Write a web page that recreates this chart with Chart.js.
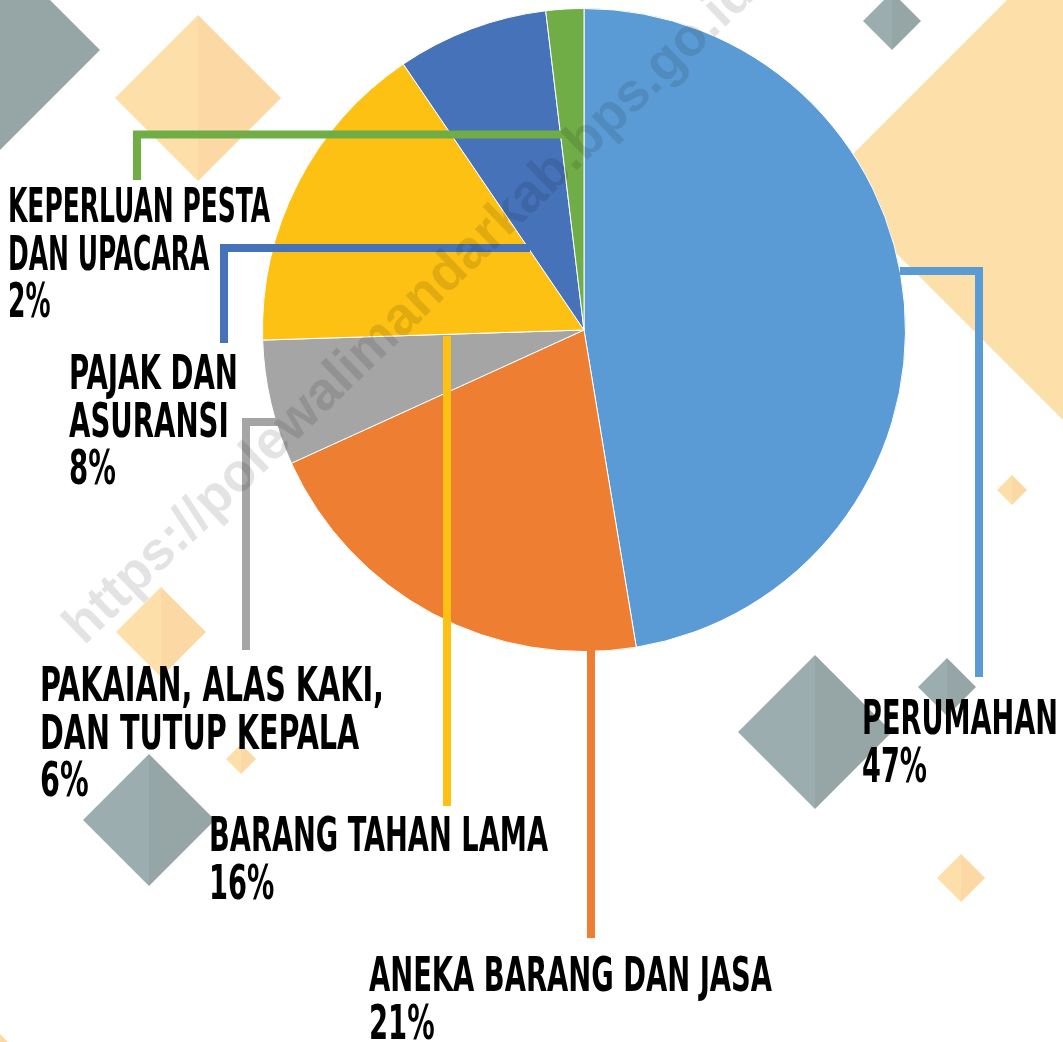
<!DOCTYPE html>
<html>
<head>
<meta charset="utf-8">
<script src="https://cdn.jsdelivr.net/npm/chart.js@4.4.1/dist/chart.umd.min.js"></script>
<style>
    html, body { margin: 0; padding: 0; background: #ffffff; }
    #cadre { width: 1063px; height: 1042px; position: relative; }
</style>
</head>
<body>
<div id="cadre"><canvas id="grafikPengeluaran"></canvas></div>
<script>
// ============================================================================
// Data
// ============================================================================
const kategori = [
    'PERUMAHAN',
    'ANEKA BARANG DAN JASA',
    'PAKAIAN, ALAS KAKI, DAN TUTUP KEPALA',
    'BARANG TAHAN LAMA',
    'PAJAK DAN ASURANSI',
    'KEPERLUAN PESTA DAN UPACARA'
];
const nilaiPersen = [47.4, 20.8, 6.3, 16.0, 7.6, 1.9];
const labelPersen = ['47%', '21%', '6%', '16%', '8%', '2%'];
const warnaIrisan = ['#5B9BD5', '#EE7E31', '#A5A5A5', '#FDC113', '#4672B9', '#70AD47'];

// Baris teks tiap label (pemecahan baris seperti pada gambar)
const barisLabel = [
    ['PERUMAHAN'],
    ['ANEKA BARANG DAN JASA'],
    ['PAKAIAN, ALAS KAKI,', 'DAN TUTUP KEPALA'],
    ['BARANG TAHAN LAMA'],
    ['PAJAK DAN', 'ASURANSI'],
    ['KEPERLUAN PESTA', 'DAN UPACARA']
];

// ============================================================================
// Tata letak (posisi label, garis penunjuk, hiasan)
// ============================================================================
const TINGGI_BARIS = 47.5;
const FONT_LABEL = 'bold 48px "Liberation Sans Narrow", "DejaVu Sans Condensed", sans-serif';

// x, baseline baris pertama, lebar baris pertama, titik garis penunjuk
const tataLabel = [
    { x: 862, y: 734, w: 196, garis: [[979, 677], [979, 271], [900, 271]] },
    { x: 369, y: 991, w: 403, garis: [[591, 938], [591, 646]] },
    { x: 40,  y: 701, w: 344, garis: [[246, 650], [246, 422], [280, 422]] },
    { x: 209, y: 851, w: 339, garis: [[447, 806], [447, 336]] },
    { x: 69,  y: 389, w: 169, garis: [[224, 343], [224, 248], [530, 248]] },
    { x: 8,   y: 222, w: 262, garis: [[137, 180], [137, 134.5], [576, 134.5]] }
];

// hiasan belah ketupat: pusat x, pusat y, setengah diagonal, jenis
const hiasan = [
    [0, 50, 100, 'abu'],
    [198, 98, 83, 'krem'],
    [892, 21, 29, 'abu'],
    [1065, 182, 240, 'krem'],
    [1012, 490, 15, 'krem'],
    [815, 732, 77, 'abu'],
    [947, 687, 29, 'abu'],
    [961, 878, 24, 'krem'],
    [161, 632, 45, 'krem'],
    [241, 759, 15, 'krem'],
    [149, 820, 66, 'abu'],
    [0, 1052, 18, 'krem']
];
const warnaHiasan = {
    abu: ['#9CADB0', '#96A5A6'],
    krem: ['#FDDFAA', '#FCD8A4']
};

const TEKS_WATERMARK = 'https://polewalimandarkab.bps.go.id';

// ============================================================================
// Plugin: hiasan latar belakang
// ============================================================================
const pluginLatar = {
    id: 'latar',
    beforeDraw(chart) {
        const ctx = chart.ctx;
        ctx.save();
        ctx.fillStyle = '#ffffff';
        ctx.fillRect(0, 0, chart.width, chart.height);
        hiasan.forEach(([cx, cy, r, jenis]) => {
            const [kiri, kanan] = warnaHiasan[jenis];
            // separuh kiri
            ctx.fillStyle = kiri;
            ctx.beginPath();
            ctx.moveTo(cx, cy - r);
            ctx.lineTo(cx - r, cy);
            ctx.lineTo(cx, cy + r);
            ctx.closePath();
            ctx.fill();
            // separuh kanan
            ctx.fillStyle = kanan;
            ctx.beginPath();
            ctx.moveTo(cx, cy - r);
            ctx.lineTo(cx + r, cy);
            ctx.lineTo(cx, cy + r);
            ctx.closePath();
            ctx.fill();
        });
        ctx.restore();
    }
};

// ============================================================================
// Plugin: garis penunjuk, label dan watermark
// ============================================================================
const pluginLabel = {
    id: 'labelPenunjuk',
    afterDraw(chart) {
        const ctx = chart.ctx;
        const ds = chart.data.datasets[0];
        ctx.save();

        // garis penunjuk
        ctx.lineWidth = 8;
        ctx.lineCap = 'butt';
        ctx.lineJoin = 'miter';
        tataLabel.forEach((t, i) => {
            ctx.strokeStyle = ds.backgroundColor[i];
            ctx.beginPath();
            t.garis.forEach(([x, y], k) => (k === 0 ? ctx.moveTo(x, y) : ctx.lineTo(x, y)));
            ctx.stroke();
        });

        // label
        ctx.font = FONT_LABEL;
        ctx.fillStyle = '#000000';
        ctx.textBaseline = 'alphabetic';
        ctx.textAlign = 'left';
        tataLabel.forEach((t, i) => {
            const baris = barisLabel[i].concat([labelPersen[i]]);
            const skala = t.w / ctx.measureText(barisLabel[i][0]).width;
            baris.forEach((teks, k) => {
                ctx.save();
                ctx.translate(t.x, t.y + k * TINGGI_BARIS);
                ctx.scale(skala, 1);
                ctx.fillText(teks, 0, 0);
                ctx.restore();
            });
        });

        // watermark
        ctx.save();
        ctx.translate(84, 646);
        ctx.rotate(-44 * Math.PI / 180);
        ctx.font = 'bold 54px "Liberation Sans", Arial, sans-serif';
        ctx.fillStyle = 'rgba(0, 0, 0, 0.11)';
        ctx.fillText(TEKS_WATERMARK, 0, 0);
        ctx.restore();

        ctx.restore();
    }
};

// ============================================================================
// Grafik
// ============================================================================
new Chart(document.getElementById('grafikPengeluaran'), {
    type: 'pie',
    data: {
        labels: kategori,
        datasets: [{
            data: nilaiPersen,
            backgroundColor: warnaIrisan,
            borderColor: '#ffffff',
            borderWidth: 1
        }]
    },
    options: {
        responsive: true,
        maintainAspectRatio: false,
        animation: false,
        layout: {
            padding: { left: 262, top: 8, right: 157, bottom: 390 }
        },
        plugins: {
            legend: { display: false },
            tooltip: { enabled: false }
        }
    },
    plugins: [pluginLatar, pluginLabel]
});
</script>
</body>
</html>
